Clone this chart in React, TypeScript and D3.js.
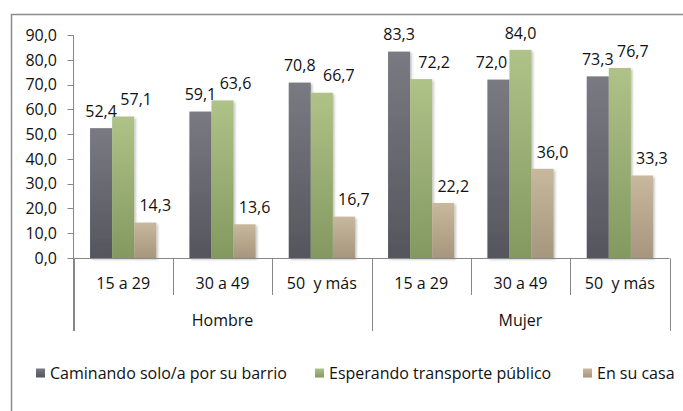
import React from "react";
import * as d3 from "d3";

const categories = ["15 a 29", "30 a 49", "50  y más", "15 a 29", "30 a 49", "50  y más"];
const groups = ["Hombre", "Mujer"];
const seriesNames = ["Caminando solo/a por su barrio", "Esperando transporte público", "En su casa"];
const caminando = [52.4, 59.1, 70.8, 83.3, 72.0, 73.3];
const esperando = [57.1, 63.6, 66.7, 72.2, 84.0, 76.7];
const enCasa = [14.3, 13.6, 16.7, 22.2, 36.0, 33.3];
const yTicks = [0, 10, 20, 30, 40, 50, 60, 70, 80, 90];

const W = 683;
const H = 411;
const FONT = "'Open Sans', sans-serif";
const axisColor = "#878787";

// gradient stops (top, bottom) per series
const fills = [
  ["#7a7a82", "#55555d"],
  ["#afc288", "#839960"],
  ["#c8b89d", "#a5967d"],
];
// Excel nudges labels sideways to avoid collisions
const labelShift = [0, 13, 10];
const labelOverride: Record<string, number> = { "0-4": -7, "1-4": 0, "1-2": 17 };

const fmt = (v: number) => v.toFixed(1).replace(".", ",");

export default function App() {
  const series = [caminando, esperando, enCasa];
  const y = d3.scaleLinear().domain([0, 90]).range([258, 35]);
  const x = d3
    .scaleBand<number>()
    .domain(d3.range(categories.length))
    .range([73.5, 669.5])
    .padding(0);
  const bw = x.bandwidth();
  const barW = bw / 4.5;
  const inner = d3
    .scaleBand<number>()
    .domain([0, 1, 2])
    .range([barW * 0.75, barW * 3.75])
    .padding(0);

  const bounds = d3.range(categories.length + 1).map((i) => 73.5 + i * bw);
  const groupW = bw * 3;

  const legendX = [36, 315, 583];

  return (
    <div style={{ position: "fixed", left: 0, top: 0 }}>
      <svg width={W} height={H} style={{ display: "block", background: "#fff" }}>
        <defs>
          {fills.map((f, i) => (
            <linearGradient key={i} id={`g${i}`} x1="0" y1="0" x2="0" y2="1">
              <stop offset="0%" stopColor={f[0]} />
              <stop offset="100%" stopColor={f[1]} />
            </linearGradient>
          ))}
          <filter id="sh" x="-20%" y="-5%" width="150%" height="115%">
            <feDropShadow dx="1.5" dy="1.5" stdDeviation="1.2" floodColor="#000" floodOpacity="0.25" />
          </filter>
        </defs>

        {/* chart frame (cropped) */}
        <path d={`M11.5,${H} V14.5 H${W}`} fill="none" stroke="#8c8c8c" strokeWidth={1.5} />

        {/* bars */}
        {series.map((vals, s) =>
          vals.map((v, i) => (
            <rect
              key={`${s}-${i}`}
              x={(x(i) as number) + (inner(s) as number)}
              y={y(v)}
              width={barW}
              height={y(0) - y(v)}
              fill={`url(#g${s})`}
              filter="url(#sh)"
            />
          ))
        )}

        {/* y axis */}
        <line x1={73.5} x2={73.5} y1={y(90)} y2={331} stroke={axisColor} />
        {yTicks.map((t) => (
          <g key={t}>
            <line x1={67.5} x2={73.5} y1={Math.round(y(t)) + 0.5} y2={Math.round(y(t)) + 0.5} stroke={axisColor} />
            <text
              x={57}
              y={y(t)}
              dy="0.36em"
              textAnchor="end"
              fontFamily={FONT}
              fontSize={16}
              fill="#111"
            >
              {fmt(t)}
            </text>
          </g>
        ))}

        {/* x axis */}
        <line x1={68} x2={669.5} y1={258.5} y2={258.5} stroke={axisColor} />
        {bounds.map((bx, i) => (
          <line
            key={i}
            x1={Math.round(bx) + 0.5}
            x2={Math.round(bx) + 0.5}
            y1={258.5}
            y2={i % 3 === 0 ? 331 : 295}
            stroke={axisColor}
          />
        ))}
        {categories.map((c, i) => (
          <text
            key={i}
            x={(x(i) as number) + bw / 2}
            y={283}
            dy="0.36em"
            textAnchor="middle"
            fontFamily={FONT}
            fontSize={16}
            fill="#111"
            style={{ whiteSpace: "pre" }}
          >
            {c}
          </text>
        ))}
        {groups.map((g, i) => (
          <text
            key={g}
            x={73.5 + groupW * i + groupW / 2}
            y={320}
            dy="0.36em"
            textAnchor="middle"
            fontFamily={FONT}
            fontSize={16}
            fill="#111"
          >
            {g}
          </text>
        ))}

        {/* value labels */}
        {series.map((vals, s) =>
          vals.map((v, i) => {
            const key = `${s}-${i}`;
            const shift = key in labelOverride ? labelOverride[key] : labelShift[s];
            return (
              <text
                key={key}
                x={(x(i) as number) + (inner(s) as number) + barW / 2 + shift}
                y={y(v) - 11.3}
                textAnchor="middle"
                fontFamily={FONT}
                fontSize={16}
                fill="#111"
              >
                {fmt(v)}
              </text>
            );
          })
        )}

        {/* legend */}
        {seriesNames.map((n, s) => (
          <g key={n}>
            <rect x={legendX[s]} y={368.5} width={9} height={9} fill={`url(#g${s})`} />
            <text
              x={legendX[s] + 14}
              y={373}
              dy="0.36em"
              fontFamily={FONT}
              fontSize={16}
              fill="#111"
            >
              {n}
            </text>
          </g>
        ))}
      </svg>
    </div>
  );
}
